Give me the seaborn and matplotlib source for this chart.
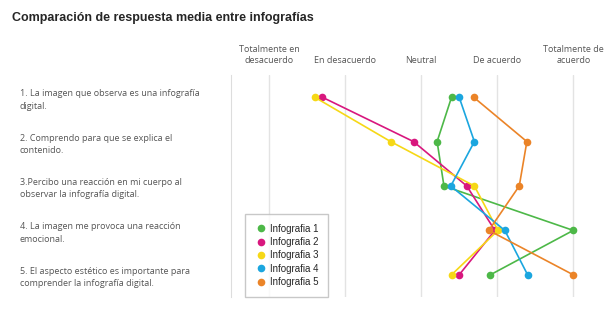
import numpy as np
import pandas as pd
import matplotlib.pyplot as plt
import seaborn as sns
from matplotlib.lines import Line2D

# Data
preguntas = ['1. La imagen que observa es una infografía\ndigital.',
             '2. Comprendo para que se explica el\ncontenido.',
             '3.Percibo una reacción en mi cuerpo al\nobservar la infografía digital.',
             '4. La imagen me provoca una reacción\nemocional.',
             '5. El aspecto estético es importante para\ncomprender la infografía digital.']
escala = ['Totalmente en\ndesacuerdo', 'En desacuerdo', 'Neutral', 'De acuerdo', 'Totalmente de\nacuerdo']
series = ['Infografia 1', 'Infografia 2', 'Infografia 3', 'Infografia 4', 'Infografia 5']
info1 = [3.40, 3.21, 3.30, 5.00, 3.91]
info2 = [1.70, 2.90, 3.60, 3.97, 3.50]
info3 = [1.60, 2.60, 3.70, 4.01, 3.40]
info4 = [3.50, 3.70, 3.39, 4.10, 4.40]
info5 = [3.69, 4.39, 4.29, 3.89, 5.00]
colores = ['#4db848', '#d8177e', '#f6d816', '#1ba6df', '#eb8428']

rows = []
for name, vals in zip(series, [info1, info2, info3, info4, info5]):
    for i, v in enumerate(vals):
        rows.append({'serie': name, 'pregunta': i + 1, 'valor': v})
df = pd.DataFrame(rows)

sns.set_style('white')
plt.rcParams['font.family'] = ['Open Sans', 'DejaVu Sans']

fig = plt.figure(figsize=(6.09, 3.26), dpi=100)
ax = fig.add_axes([231 / 609, 1 - 297 / 326, 378 / 609, 222 / 326])

sns.lineplot(data=df, x='valor', y='pregunta', hue='serie', palette=colores,
             sort=False, orient='y', marker='o', markersize=5.5, markeredgewidth=0,
             linewidth=1.2, legend=False, ax=ax)

ax.set_xlim(0.5, 5.47)
ax.set_ylim(5.5, 0.5)
ax.set_xlabel('')
ax.set_ylabel('')

# top category axis
ax.xaxis.tick_top()
ax.set_xticks(range(1, 6))
ax.set_xticklabels(escala, fontsize=6.5, color='#555555', linespacing=1.3)
ax.tick_params(axis='x', length=0, pad=7)
ax.grid(axis='x', color='#e3e3e3', linewidth=1)

# left question labels
ax.set_yticks(range(1, 6))
ax.set_yticklabels(preguntas, fontsize=6.5, color='#555555', ha='left', linespacing=1.5)
ax.tick_params(axis='y', which='major', length=0, pad=152)
ax.set_yticks([0.5, 1.5, 2.5, 3.5, 4.5, 5.5], minor=True)
ax.tick_params(axis='y', which='minor', length=5, color='#dddddd', width=1)

for s in ['top', 'right', 'bottom']:
    ax.spines[s].set_visible(False)
ax.spines['left'].set_color('#dddddd')

handles = [Line2D([], [], linestyle='none', marker='o', markersize=5.5,
                  markerfacecolor=c, markeredgewidth=0) for c in colores]
leg = ax.legend(handles, series, loc='lower left', bbox_to_anchor=(0.037, 0.0),
                borderaxespad=0, fancybox=False, edgecolor='#bbbbbb',
                prop={'family': 'Liberation Sans', 'size': 7},
                handletextpad=0.4, labelspacing=0.35, borderpad=1.0, handlelength=1.2)
leg.get_frame().set_linewidth(1)

fig.text(12 / 609, 1 - 18 / 326, 'Comparación de respuesta media entre infografías',
         fontsize=9, fontweight='bold', family='Liberation Sans', va='center')

fig.savefig('out.png', dpi=100)
